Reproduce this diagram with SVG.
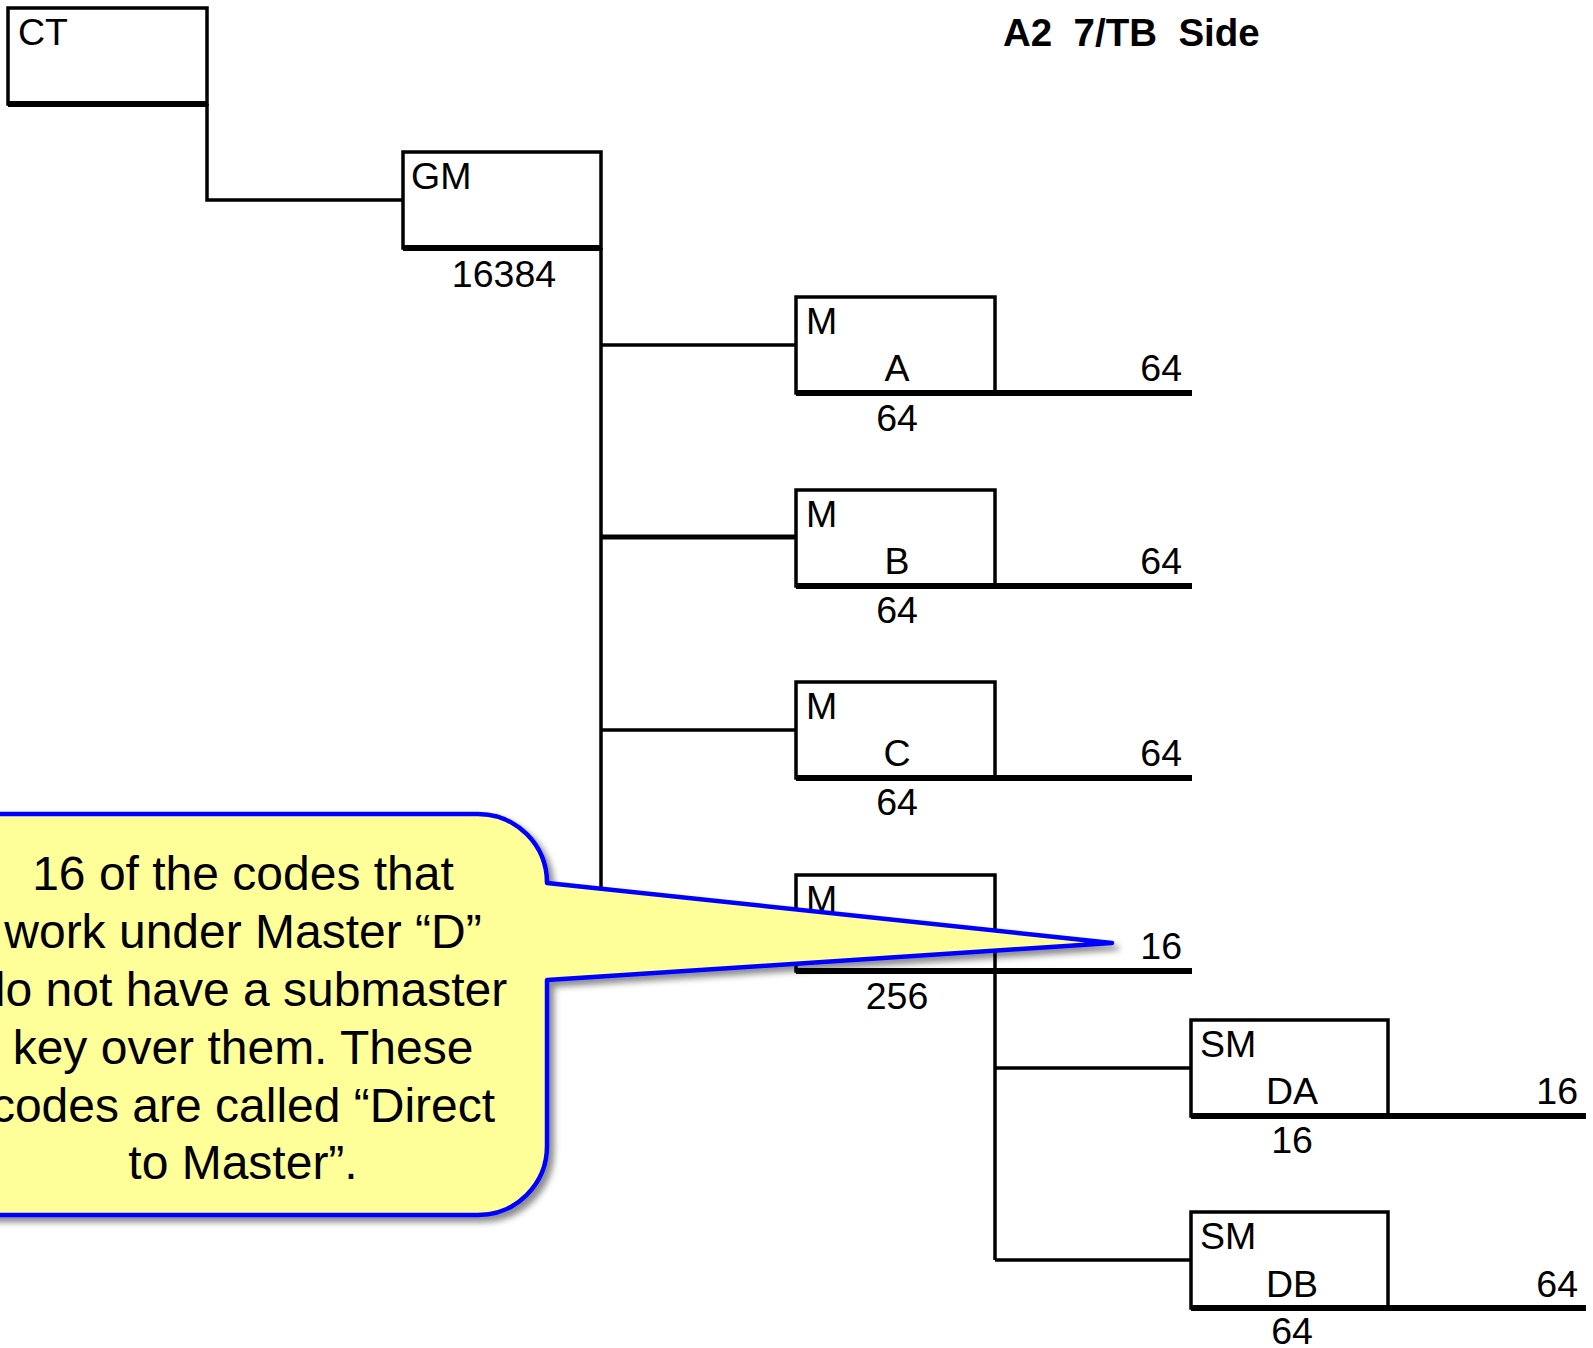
<svg xmlns="http://www.w3.org/2000/svg" width="1593" height="1348" viewBox="0 0 1593 1348">
<style>
.box{fill:#fff;stroke:#000;stroke-width:3.5}
.base{stroke:#000;stroke-width:6;fill:none}
.conn{stroke:#000;stroke-width:3.5;fill:none}
.lbl{font-family:"Liberation Sans",Arial,sans-serif;font-size:37.5px;fill:#000}
.mid{text-anchor:middle}
.end{text-anchor:end}
.title{font-family:"Liberation Sans",Arial,sans-serif;font-size:38.5px;font-weight:bold;fill:#000;white-space:pre}
.note{font-family:"Liberation Sans",Arial,sans-serif;font-size:48px;fill:#000;text-anchor:middle}
</style>
<defs>
<filter id="sh" x="-10%" y="-10%" width="130%" height="130%">
<feDropShadow dx="5" dy="5" stdDeviation="3" flood-color="#000" flood-opacity="0.45"/>
</filter>
</defs>
<rect width="1593" height="1348" fill="#fff"/>
<text class="title" x="1003" y="46" xml:space="preserve">A2  7/TB  Side</text>

<g id="connectors">
<path class="conn" d="M207 104 V200 H403"/>
<path class="conn" d="M601 248 V922"/>
<path class="conn" d="M601 345 H796"/>
<path class="conn" d="M601 537 H796" style="stroke-width:5"/>
<path class="conn" d="M601 730 H796"/>
<path class="conn" d="M601 922 H796"/>
<path class="conn" d="M995 971 V1260"/>
<path class="conn" d="M995 1068 H1191"/>
<path class="conn" d="M995 1260 H1191"/>
</g>

<g id="node-ct">
<rect class="box" x="8" y="8" width="199" height="96"/>
<line class="base" x1="8" y1="104" x2="207" y2="104"/>
<text class="lbl" x="18" y="45">CT</text>
</g>

<g id="node-gm">
<rect class="box" x="403" y="152" width="198" height="96"/>
<line class="base" x1="403" y1="248" x2="601" y2="248"/>
<text class="lbl" x="411" y="189">GM</text>
<text class="lbl mid" x="504" y="287">16384</text>
</g>

<g id="node-ma">
<rect class="box" x="796" y="297" width="199" height="96"/>
<line class="base" x1="796" y1="393" x2="1192" y2="393"/>
<text class="lbl" x="806" y="334">M</text>
<text class="lbl mid" x="897" y="381">A</text>
<text class="lbl mid" x="897" y="431">64</text>
<text class="lbl end" x="1182" y="381">64</text>
</g>

<g id="node-mb">
<rect class="box" x="796" y="490" width="199" height="96"/>
<line class="base" x1="796" y1="586" x2="1192" y2="586"/>
<text class="lbl" x="806" y="527">M</text>
<text class="lbl mid" x="897" y="574">B</text>
<text class="lbl mid" x="897" y="623">64</text>
<text class="lbl end" x="1182" y="574">64</text>
</g>

<g id="node-mc">
<rect class="box" x="796" y="682" width="199" height="96"/>
<line class="base" x1="796" y1="778" x2="1192" y2="778"/>
<text class="lbl" x="806" y="719">M</text>
<text class="lbl mid" x="897" y="766">C</text>
<text class="lbl mid" x="897" y="815">64</text>
<text class="lbl end" x="1182" y="766">64</text>
</g>

<g id="node-md">
<rect class="box" x="796" y="875" width="199" height="96"/>
<line class="base" x1="796" y1="971" x2="1192" y2="971"/>
<text class="lbl" x="806" y="912">M</text>
<text class="lbl mid" x="897" y="1009">256</text>
<text class="lbl end" x="1182" y="959">16</text>
</g>

<g id="node-smda">
<rect class="box" x="1191" y="1020" width="197" height="96"/>
<line class="base" x1="1191" y1="1116" x2="1586" y2="1116"/>
<text class="lbl" x="1200" y="1057">SM</text>
<text class="lbl mid" x="1292" y="1104">DA</text>
<text class="lbl mid" x="1292" y="1153">16</text>
<text class="lbl end" x="1578" y="1104">16</text>
</g>

<g id="node-smdb">
<rect class="box" x="1191" y="1212" width="197" height="96"/>
<line class="base" x1="1191" y1="1308" x2="1586" y2="1308"/>
<text class="lbl" x="1200" y="1249">SM</text>
<text class="lbl mid" x="1292" y="1297">DB</text>
<text class="lbl mid" x="1292" y="1344">64</text>
<text class="lbl end" x="1578" y="1297">64</text>
</g>

<g id="callout">
<path d="M-70 814 H478 A69 69 0 0 1 547 883 L1112 943 L547 980 V1146 A69 69 0 0 1 478 1215 H-70 Z" fill="#ffff99" stroke="#0000ff" stroke-width="4.5" stroke-linejoin="round" filter="url(#sh)"/>
<text class="note" x="243" y="890">16 of the codes that</text>
<text class="note" x="243" y="948">work under Master “D”</text>
<text class="note" x="243" y="1006">do not have a submaster</text>
<text class="note" x="243" y="1064">key over them. These</text>
<text class="note" x="243" y="1122">codes are called “Direct</text>
<text class="note" x="243" y="1179">to Master”.</text>
</g>
</svg>
